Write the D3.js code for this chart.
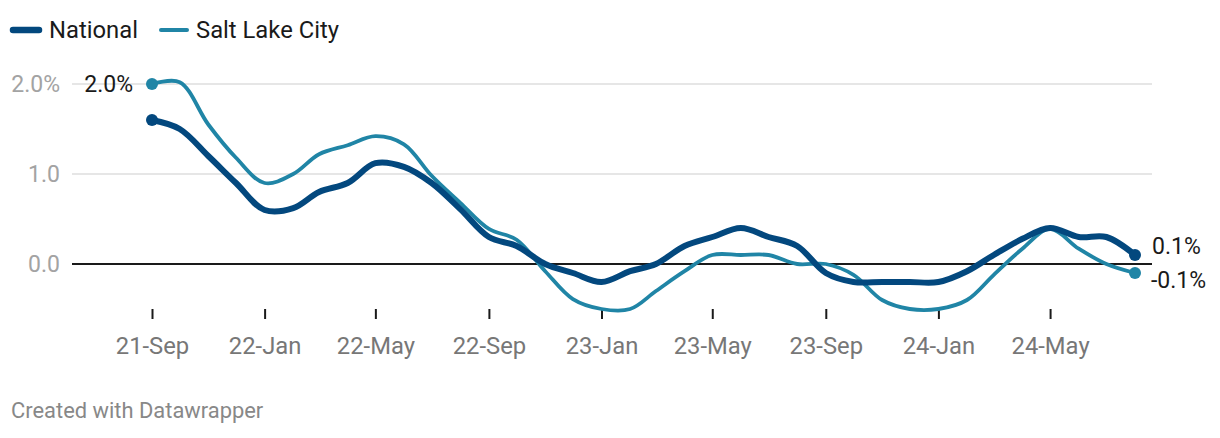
<!DOCTYPE html>
<html>
<head>
<meta charset="utf-8">
<script src="https://cdn.jsdelivr.net/npm/d3@7"></script>
<style>
  html, body { margin: 0; padding: 0; background: #fff; }
  svg { display: block; font-family: Roboto, "Noto Sans", sans-serif; }
</style>
</head>
<body>
<svg id="chart" width="1220" height="438"></svg>
<script>
// ---- data ----
const months = ["2021-09","2021-10","2021-11","2021-12","2022-01","2022-02","2022-03","2022-04","2022-05","2022-06","2022-07","2022-08",
  "2022-09","2022-10","2022-11","2022-12","2023-01","2023-02","2023-03","2023-04","2023-05","2023-06","2023-07","2023-08",
  "2023-09","2023-10","2023-11","2023-12","2024-01","2024-02","2024-03","2024-04","2024-05","2024-06","2024-07","2024-08"];
const national = [1.6,1.5,1.2,0.9,0.6,0.62,0.8,0.9,1.12,1.08,0.9,0.61,
  0.3,0.2,0.0,-0.1,-0.2,-0.08,0.0,0.2,0.3,0.4,0.3,0.2,
  -0.1,-0.2,-0.2,-0.2,-0.2,-0.08,0.1,0.28,0.4,0.3,0.3,0.1];
const saltLake = [2.0,2.02,1.55,1.18,0.9,1.0,1.22,1.32,1.42,1.33,0.98,0.68,
  0.39,0.27,-0.08,-0.39,-0.5,-0.5,-0.3,-0.08,0.1,0.1,0.1,0.0,
  0.0,-0.12,-0.4,-0.5,-0.5,-0.4,-0.12,0.17,0.39,0.17,0.0,-0.1];
const yTicks = [0, 1, 2];
const yTickLabels = ["0.0", "1.0", "2.0%"];
const xTickMonths = ["2021-09","2022-01","2022-05","2022-09","2023-01","2023-05","2023-09","2024-01","2024-05"];
const seriesNames = ["National", "Salt Lake City"];
const seriesColors = ["#03487e", "#2085a6"];
const startLabel = "2.0%";
const endLabels = ["0.1%", "-0.1%"];
const footer = "Created with Datawrapper";

// ---- setup ----
const parse = d3.timeParse("%Y-%m");
const dates = months.map(parse);
const svg = d3.select("#chart");

const x = d3.scaleTime().domain([dates[0], dates[dates.length - 1]]).range([152, 1135]);
const y = d3.scaleLinear().domain([0, 2]).range([264, 84]);
const plotLeft = 72, plotRight = 1152;

// gridlines
svg.append("g").selectAll("line").data(yTicks.filter(d => d !== 0)).join("line")
  .attr("x1", plotLeft).attr("x2", plotRight)
  .attr("y1", d => y(d)).attr("y2", d => y(d))
  .attr("stroke", "#e6e6e6").attr("stroke-width", 2);

// y labels
svg.append("g").selectAll("text").data(yTicks).join("text")
  .attr("x", 60).attr("y", d => y(d))
  .attr("dy", "0.36em")
  .attr("text-anchor", "end")
  .attr("fill", "#a3a3a3")
  .style("font-size", "23px")
  .text((d, i) => yTickLabels[i]);

// zero baseline
svg.append("line")
  .attr("x1", plotLeft).attr("x2", plotRight)
  .attr("y1", y(0)).attr("y2", y(0))
  .attr("stroke", "#1a1a1a").attr("stroke-width", 2);

// x axis
const xAxis = d3.axisBottom(x)
  .tickValues(xTickMonths.map(parse))
  .tickFormat(d3.timeFormat("%y-%b"))
  .tickSize(10).tickPadding(18);
const gx = svg.append("g").attr("transform", "translate(0,309)").call(xAxis);
gx.select(".domain").remove();
gx.selectAll(".tick line").attr("stroke", "#1a1a1a").attr("stroke-width", 2);
gx.selectAll(".tick text").attr("fill", "#777").style("font-size", "23.8px").style("font-family", "Roboto");

// lines
const line = d3.line()
  .x((d, i) => x(dates[i]))
  .y(d => y(d))
  .curve(d3.curveCatmullRom.alpha(0.5));

const allSeries = [saltLake, national];
const widths = [3.8, 6];
const cols = [seriesColors[1], seriesColors[0]];
allSeries.forEach((s, k) => {
  svg.append("path").datum(s)
    .attr("d", line)
    .attr("fill", "none")
    .attr("stroke", cols[k])
    .attr("stroke-width", widths[k])
    .attr("stroke-linejoin", "round")
    .attr("stroke-linecap", "round");
  [0, s.length - 1].forEach(i => {
    svg.append("circle")
      .attr("cx", x(dates[i])).attr("cy", y(s[i]))
      .attr("r", 6).attr("fill", cols[k]);
  });
});

// value labels
svg.append("text")
  .attr("x", 133).attr("y", y(saltLake[0])).attr("dy", "0.36em")
  .attr("text-anchor", "end").attr("fill", "#1a1a1a")
  .style("font-size", "23px").text(startLabel);
svg.append("text")
  .attr("x", 1152).attr("y", y(national[national.length - 1]) - 9).attr("dy", "0.36em")
  .attr("fill", "#1a1a1a").style("font-size", "23px").text(endLabels[0]);
svg.append("text")
  .attr("x", 1151).attr("y", y(saltLake[saltLake.length - 1]) + 7).attr("dy", "0.36em")
  .attr("fill", "#1a1a1a").style("font-size", "23px").text(endLabels[1]);

// legend
const legend = svg.append("g");
const legendX = [10, 158];
const textX = [49, 196];
const legendW = [6.5, 4];
seriesNames.forEach((name, i) => {
  legend.append("line")
    .attr("x1", legendX[i] + 3).attr("x2", legendX[i] + 29)
    .attr("y1", 30).attr("y2", 30)
    .attr("stroke", seriesColors[i]).attr("stroke-width", legendW[i])
    .attr("stroke-linecap", "round");
  legend.append("text")
    .attr("x", textX[i]).attr("y", 37.5)
    .attr("fill", "#1a1a1a").style("font-size", "23.8px")
    .text(name);
});

// footer
svg.append("text")
  .attr("x", 11).attr("y", 418)
  .attr("fill", "#888").style("font-size", "21.9px")
  .text(footer);
</script>
</body>
</html>
